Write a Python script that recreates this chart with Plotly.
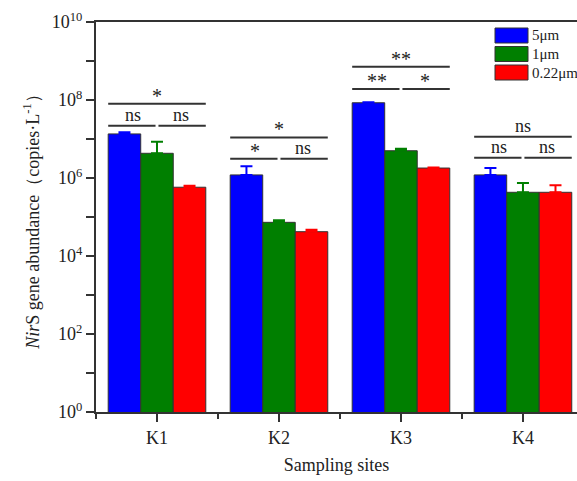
import plotly.graph_objects as go

sites = ["K1", "K2", "K3", "K4"]
series = ["5μm", "1μm", "0.22μm"]
colors = ["#0000FF", "#007F00", "#FF0000"]
values = {
    "5μm":    [1.35e7, 1.2e6, 8.5e7, 1.2e6],
    "1μm":    [4.3e6, 7.3e4, 5.0e6, 4.3e5],
    "0.22μm": [5.8e5, 4.2e4, 1.8e6, 4.3e5],
}
err_top = {
    "5μm":    [1.5e7, 2.0e6, 8.8e7, 1.8e6],
    "1μm":    [8.5e6, 8.2e4, 5.6e6, 7.4e5],
    "0.22μm": [6.3e5, 4.7e4, 1.85e6, 6.5e5],
}
# significance labels: (left pair, right pair, overall)
sig_left = ["ns", "*", "**", "ns"]
sig_right = ["ns", "ns", "*", "ns"]
sig_top = ["*", "*", "**", "ns"]
# bracket levels (log10 units)
lvl_low = [7.34, 6.495, 8.28, 6.52]
lvl_top = [7.905, 7.04, 8.85, 7.06]

xpos = [1, 2, 3, 4]

fig = go.Figure()
for s, c in zip(series, colors):
    v = values[s]
    plus = [e - a for e, a in zip(err_top[s], v)]
    fig.add_trace(go.Bar(
        x=xpos, y=v, name=s, marker=dict(color=c, line=dict(color="#333333", width=1)),
        error_y=dict(type="data", array=plus, arrayminus=[0]*4, symmetric=False,
                     color=c, thickness=2, width=6),
        showlegend=False,
    ))

lc = "#333333"
half = 0.4
gap = 0.012
for i, x in enumerate(xpos):
    lo = 10 ** lvl_low[i]
    hi = 10 ** lvl_top[i]
    fig.add_shape(type="line", x0=x-half, x1=x-gap, y0=lo, y1=lo, line=dict(color=lc, width=2))
    fig.add_shape(type="line", x0=x+gap, x1=x+half, y0=lo, y1=lo, line=dict(color=lc, width=2))
    fig.add_shape(type="line", x0=x-half, x1=x+half, y0=hi, y1=hi, line=dict(color=lc, width=2))
    for txt, tx, ty in [(sig_left[i], x-half/2, lvl_low[i]), (sig_right[i], x+half/2, lvl_low[i]),
                        (sig_top[i], x, lvl_top[i])]:
        star = "*" in txt
        fig.add_annotation(x=tx, y=ty, yref="y", text=txt, showarrow=False,
                           xanchor="center", yanchor="bottom",
                           yshift=-5 if star else -1,
                           font=dict(family="Liberation Serif", size=20 if star else 18, color="#222222"))

# custom legend
for k, (s, c) in enumerate(zip(series, colors)):
    y0 = 28 + k * 18.5
    fig.add_shape(type="rect", xref="paper", yref="paper",
                  x0=(495-96)/481, x1=(528-96)/481,
                  y0=1-(y0+15-22)/390, y1=1-(y0-22)/390,
                  fillcolor=c, line=dict(color="#333333", width=1))
    fig.add_annotation(xref="paper", yref="paper", x=(530-96)/481, y=1-(y0+7.5-22)/390,
                       text=s, showarrow=False, xanchor="left", yanchor="middle",
                       font=dict(family="Liberation Serif", size=15, color="#222222"))

ytickvals = [10**k for k in range(0, 11, 2)]
yticktext = ["10<sup>%d</sup>" % k for k in range(0, 11, 2)]

fig.update_layout(
    width=577, height=481,
    margin=dict(l=96, r=0, t=22, b=69),
    paper_bgcolor="white", plot_bgcolor="white",
    barmode="group", bargap=0.2, bargroupgap=0,
    font=dict(family="Liberation Serif", size=18, color="#222222"),
    xaxis=dict(range=[0.5, 4.443], tickmode="array", tickvals=xpos, ticktext=sites,
               showline=True, linecolor=lc, linewidth=2, mirror=True,
               ticks="outside", ticklen=8, tickwidth=2, tickcolor=lc,
               minor=dict(tickvals=[0.5, 1.5, 2.5, 3.5, 4.5], ticks="outside", ticklen=5, tickwidth=2, tickcolor=lc),
               showgrid=False, zeroline=False,
               title=dict(text="Sampling sites", font=dict(size=18), standoff=12),
               tickfont=dict(size=18)),
    yaxis=dict(type="log", range=[0, 10], tickmode="array", tickvals=ytickvals, ticktext=yticktext,
               showline=True, linecolor=lc, linewidth=2, mirror=False,
               ticks="outside", ticklen=8, tickwidth=2, tickcolor=lc,
               minor=dict(tickvals=[10**k for k in range(1, 10, 2)], ticks="outside", ticklen=8, tickwidth=2, tickcolor=lc),
               showgrid=False, zeroline=False,
               title=dict(text="<i>Nir</i>S gene abundance（copies·L<sup>-1</sup>）", font=dict(size=18), standoff=8),
               tickfont=dict(size=18)),
)

fig.write_html("out.html")
